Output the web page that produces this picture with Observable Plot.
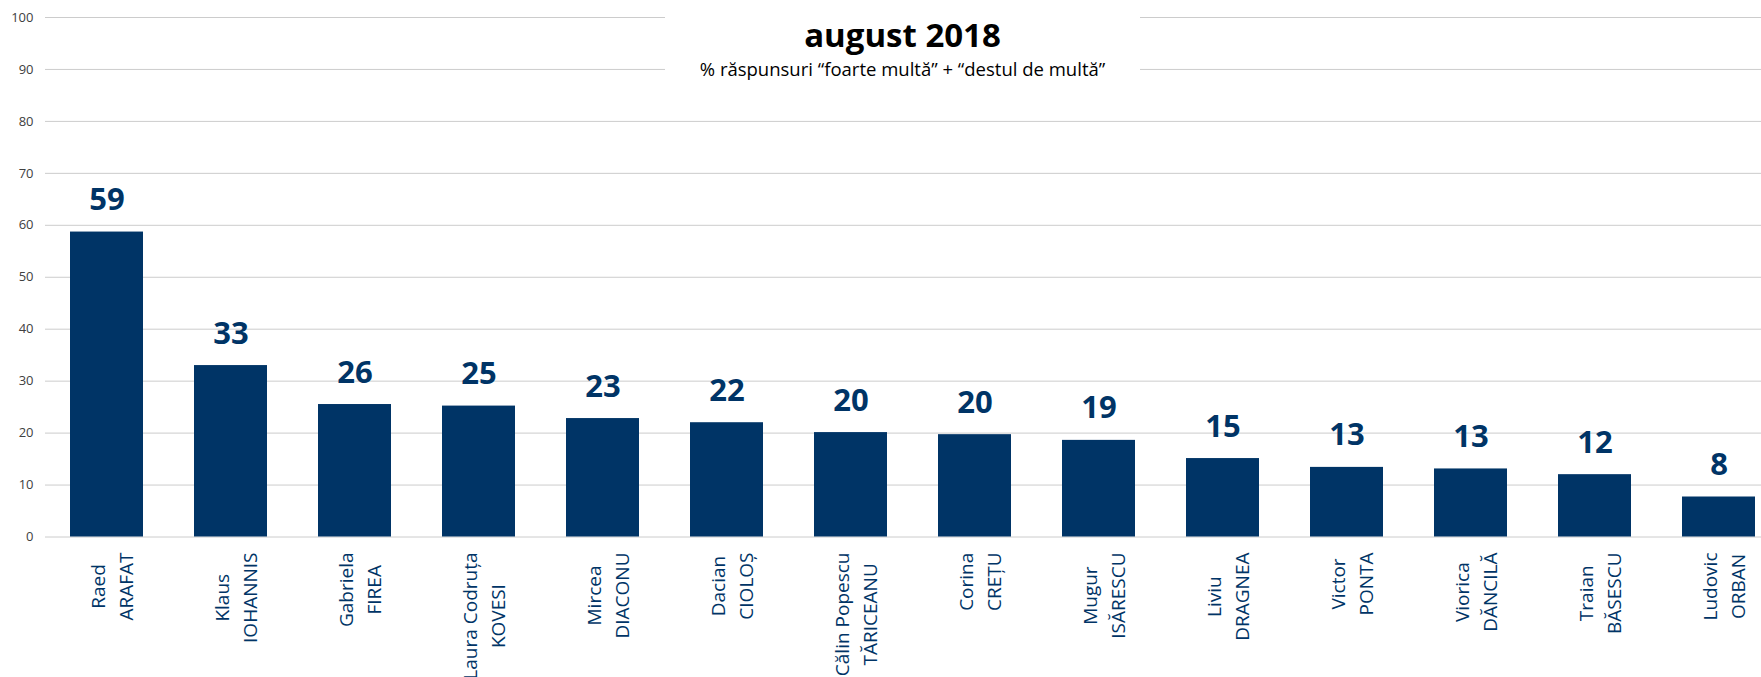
<!DOCTYPE html>
<html>
<head>
<meta charset="utf-8">
<script src="https://cdn.jsdelivr.net/npm/d3@7"></script>
<script src="https://cdn.jsdelivr.net/npm/@observablehq/plot@0.6"></script>
<style>
  body { margin: 0; background: #fff; }
  #wrap { position: relative; width: 1761px; height: 677px; overflow: hidden; font-family: "Open Sans", sans-serif; }
  #titlebox { position: absolute; left: 665px; top: 0; width: 475px; height: 100px; background: #fff; text-align: center; color: #000; }
  #title { position: absolute; left: 0; right: 0; top: 18px; font-size: 33px; line-height: 33px; font-weight: 700; }
  #subtitle { position: absolute; left: 0; right: 0; top: 60px; font-size: 18.5px; line-height: 18.5px; }
</style>
</head>
<body>
<div id="wrap">
  <div id="chart"></div>
  <div id="titlebox"><div id="title"></div><div id="subtitle"></div></div>
</div>
<script>
// ---- data ----
const firstNames = ["Raed", "Klaus", "Gabriela", "Laura Codruța", "Mircea", "Dacian", "Călin Popescu", "Corina", "Mugur", "Liviu", "Victor", "Viorica", "Traian", "Ludovic"];
const lastNames  = ["ARAFAT", "IOHANNIS", "FIREA", "KOVESI", "DIACONU", "CIOLOȘ", "TĂRICEANU", "CREȚU", "ISĂRESCU", "DRAGNEA", "PONTA", "DĂNCILĂ", "BĂSESCU", "ORBAN"];
const values     = [58.7, 33.0, 25.5, 25.2, 22.8, 22.0, 20.1, 19.7, 18.6, 15.1, 13.4, 13.1, 12.0, 7.7];
const valueLabels = ["59", "33", "26", "25", "23", "22", "20", "20", "19", "15", "13", "13", "12", "8"];
const yTicks = [0, 10, 20, 30, 40, 50, 60, 70, 80, 90, 100];
const titleText = "august 2018";
const subtitleText = "% răspunsuri “foarte multă” + “destul de multă”";

// ---- layout / style ----
const W = 1761, H = 677;
const yBottomPx = 536.5, yTopPx = 17;
const navy = "#003466";
const labelFont = 19;
const labelTopPx = 552;

document.getElementById("title").textContent = titleText;
document.getElementById("subtitle").textContent = subtitleText;

const ctx = document.createElement("canvas").getContext("2d");
ctx.font = `${labelFont}px "Open Sans"`;
const pxPerUnit = (yBottomPx - yTopPx) / 100;

const rows = firstNames.map((f, i) => {
  const w = Math.max(ctx.measureText(f).width, ctx.measureText(lastNames[i]).width);
  const centerPx = labelTopPx + w / 2;
  return {
    key: f + " " + lastNames[i],
    label: f + "\n" + lastNames[i],
    value: values[i],
    text: valueLabels[i],
    labelY: (yBottomPx - centerPx) / pxPerUnit
  };
});

const chart = Plot.plot({
  width: W,
  height: H,
  marginLeft: 45,
  marginRight: 0,
  marginTop: 0,
  marginBottom: 0,
  style: { fontFamily: "'Open Sans', sans-serif", fontSize: "13px", color: "#404040", background: "#fff", overflow: "visible" },
  x: { type: "band", domain: rows.map(d => d.key), range: [44, 1781], paddingInner: 0.41, paddingOuter: 0.205, align: 0.5, axis: null },
  y: { domain: [0, 100], range: [yBottomPx, yTopPx], axis: null },
  marks: [
    Plot.ruleY(yTicks, { stroke: "#cccccc", strokeWidth: 1 }),
    Plot.axisY(yTicks, { tickSize: 0, tickPadding: 12, fontSize: 13, fill: "#404040" }),
    Plot.barY(rows, { x: "key", y: "value", fill: navy }),
    Plot.text(rows, { x: "key", y: "value", text: "text", lineAnchor: "bottom", dy: -22, fill: navy, fontSize: 31, fontWeight: 700 }),
    Plot.text(rows, { x: "key", y: "labelY", text: "label", rotate: -90, textAnchor: "middle", lineAnchor: "middle", lineHeight: 1.47, dx: 3, fill: navy, fontSize: labelFont })
  ]
});
document.getElementById("chart").appendChild(chart);
</script>
</body>
</html>
